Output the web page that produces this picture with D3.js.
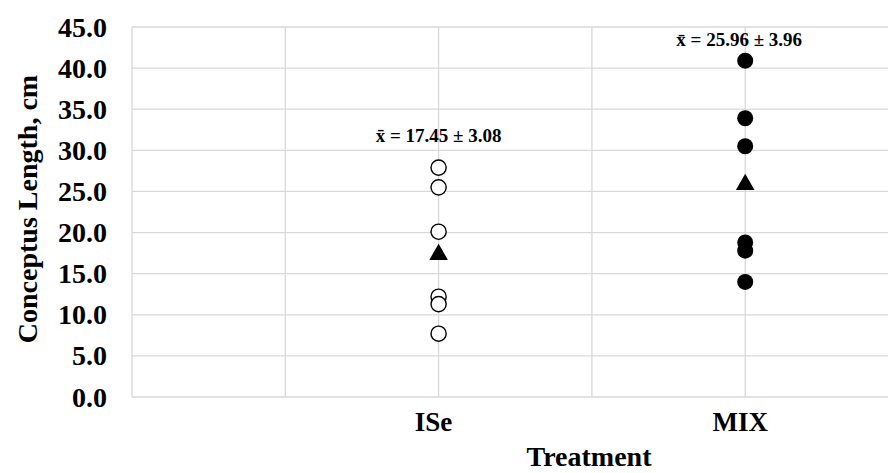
<!DOCTYPE html>
<html>
<head>
<meta charset="utf-8">
<script src="https://cdn.jsdelivr.net/npm/d3@7"></script>
<style>
    body { margin: 0; background: #fff; }
    svg { display: block; font-family: "Liberation Serif", "Times New Roman", serif; font-weight: bold; }
    .grid { stroke: #d9d9d9; stroke-width: 1.3; }
    .tick-label { font-size: 28px; }
    .cat-label { font-size: 27px; }
    .axis-title { font-size: 28px; }
    .mean-label { font-size: 19px; }
</style>
</head>
<body>
<svg id="chart" width="888" height="473"></svg>
<script>
// Data
const CATEGORIES = ["ISe", "MIX"];
const CATEGORY_POS = [2, 4];
const ISE_VALUES = [27.9, 25.5, 20.1, 12.2, 11.3, 7.7];
const MIX_VALUES = [40.9, 33.9, 30.5, 18.8, 17.8, 14.0];
const MEANS = [17.45, 25.96];
const SEMS = [3.08, 3.96];
const LABEL_HEIGHTS = [31.05, 42.7];
const Y_TICKS = [0, 5, 10, 15, 20, 25, 30, 35, 40, 45];
const X_GRID = [0, 1, 2, 3, 4, 5];

const svg = d3.select("#chart");
const width = 888;

const x = d3.scaleLinear().domain([0, 5]).range([132, 898.5]);
const y = d3.scaleLinear().domain([0, 45]).range([397, 27]);

// Gridlines
svg.append("g").selectAll("line.h")
    .data(Y_TICKS)
    .enter().append("line")
    .classed("grid", true)
    .attr("x1", x(0)).attr("x2", width)
    .attr("y1", (d) => y(d)).attr("y2", (d) => y(d));

svg.append("g").selectAll("line.v")
    .data(X_GRID)
    .enter().append("line")
    .classed("grid", true)
    .attr("x1", (d) => x(d)).attr("x2", (d) => x(d))
    .attr("y1", y(45)).attr("y2", y(0));

// Value axis labels
svg.append("g").selectAll("text")
    .data(Y_TICKS)
    .enter().append("text")
    .classed("tick-label", true)
    .attr("x", 107)
    .attr("y", (d) => y(d))
    .attr("dy", "0.34em")
    .attr("text-anchor", "end")
    .text((d) => d.toFixed(1));

// Category labels
svg.append("g").selectAll("text")
    .data(CATEGORIES)
    .enter().append("text")
    .classed("cat-label", true)
    .attr("x", (d, i) => x(CATEGORY_POS[i]) - 5)
    .attr("y", 431)
    .attr("text-anchor", "middle")
    .text((d) => d);

// Axis titles
svg.append("text")
    .classed("axis-title", true)
    .attr("x", 589)
    .attr("y", 466)
    .attr("text-anchor", "middle")
    .text("Treatment");

svg.append("text")
    .classed("axis-title", true)
    .attr("transform", "translate(37 209) rotate(-90)")
    .attr("text-anchor", "middle")
    .text("Conceptus Length, cm");

// Points
const series = [ISE_VALUES, MIX_VALUES];
series.forEach((values, i) => {
    const filled = i === 1;
    svg.append("g").selectAll("circle")
        .data(values)
        .enter().append("circle")
        .attr("cx", x(CATEGORY_POS[i]))
        .attr("cy", (d) => y(d))
        .attr("r", filled ? 8 : 7.6)
        .style("fill", filled ? "#000" : "#fff")
        .style("stroke", "#000")
        .style("stroke-width", filled ? 0 : 1.4);
});

// Means
const triangle = d3.symbol().type(d3.symbolTriangle).size(150);
svg.append("g").selectAll("path")
    .data(MEANS)
    .enter().append("path")
    .attr("d", triangle)
    .attr("transform", (d, i) => "translate(" + x(CATEGORY_POS[i]) + " " + (y(d) + 1) + ")")
    .style("fill", "#000");

// Mean labels
svg.append("g").selectAll("text")
    .data(MEANS)
    .enter().append("text")
    .classed("mean-label", true)
    .attr("x", (d, i) => x(CATEGORY_POS[i]) - (i === 1 ? 6 : 0))
    .attr("y", (d, i) => y(LABEL_HEIGHTS[i]))
    .attr("text-anchor", "middle")
    .text((d, i) => "x\u0304 = " + d.toFixed(2) + " \u00b1 " + SEMS[i].toFixed(2));
</script>
</body>
</html>
